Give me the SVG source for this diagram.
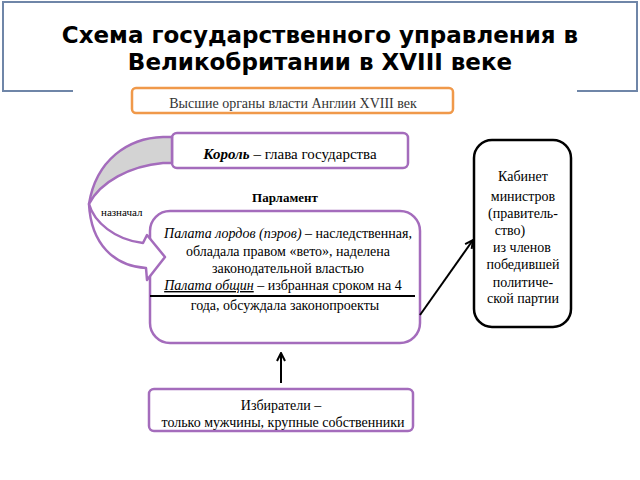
<svg xmlns="http://www.w3.org/2000/svg" width="640" height="480" viewBox="0 0 640 480">
<defs>
<style>
.frame{fill:none;stroke:#6F86A8;stroke-width:2}
.pbox{fill:#fff;stroke:#A46CBC;stroke-width:2.5}
.obox{fill:#fff;stroke:#F0994A;stroke-width:2.5}
.kbox{fill:#fff;stroke:#000;stroke-width:2.5}
.title{font-family:"DejaVu Sans",sans-serif;font-weight:bold;font-size:23px;fill:#000;text-anchor:middle}
.t{font-family:"Liberation Serif",serif;font-size:14px;fill:#000;text-anchor:middle}
.s{font-family:"Liberation Serif",serif;font-size:11px;fill:#000}
.conn{stroke:#000;stroke-width:2;fill:none}
</style>
<marker id="open" viewBox="0 0 10 10" refX="9" refY="5" markerWidth="5" markerHeight="5" orient="auto" markerUnits="strokeWidth">
<path d="M1,1 L9,5 L1,9" fill="none" stroke="#000" stroke-width="2"/>
</marker>
</defs>
<rect width="640" height="480" fill="#fff"/>
<g id="title">
<path class="frame" d="M73,91 L3,91 L3,2 L637,2 L637,91 L577,91"/>
<text class="title" x="320" y="43">Схема государственного управления в</text>
<text class="title" x="320" y="70">Великобритании в XVIII веке</text>
</g>
<g id="header">
<rect class="obox" x="132" y="88" width="321" height="25" rx="4"/>
<text class="t" x="293" y="108" style="fill:#333">Высшие органы власти Англии XVIII век</text>
</g>
<g id="king">
<rect class="pbox" x="172" y="133" width="236" height="35" rx="5"/>
<text class="t" x="290" y="159" style="font-size:15px"><tspan font-weight="bold" font-style="italic">Король</tspan> – глава государства</text>
</g>
<g id="parliament">
<text class="s" x="285" y="202" text-anchor="middle" font-weight="bold" style="font-size:13px">Парламент</text>
<rect class="pbox" x="150" y="211" width="270" height="132" rx="20"/>
<text class="t" x="288" y="238"><tspan font-style="italic">Палата лордов (пэров)</tspan> – наследственная,</text>
<text class="t" x="288" y="256">обладала правом «вето», наделена</text>
<text class="t" x="288" y="273">законодательной властью</text>
<text class="t" x="283" y="290"><tspan font-style="italic" text-decoration="underline">Палата общин</tspan> – избранная сроком на 4</text>
<line x1="150" y1="296" x2="415" y2="296" stroke="#000" stroke-width="2"/>
<text class="t" x="285" y="310">года, обсуждала законопроекты</text>
</g>
<g id="curved-arrow">
<path d="M172,137 L163,137 C128,138 96,160 89,204 C100,182 130,166 163,163 L172,163 Z" fill="#D3D3D3" stroke="#A46CBC" stroke-width="2.5" stroke-linejoin="round"/>
<path d="M89,204 C94,222 115,240 143,243 L147,235 L165,257 L147,280 L146,268 C114,266 91,244 89,204 Z" fill="#fff" stroke="#A46CBC" stroke-width="2.5" stroke-linejoin="round"/>
<text class="s" x="101" y="216">назначал</text>
</g>
<g id="cabinet">
<rect class="kbox" x="474" y="140" width="97" height="187" rx="18"/>
<text class="t" x="523" y="181">Кабинет</text>
<text class="t" x="523" y="201">министров</text>
<text class="t" x="523" y="218">(правитель-</text>
<text class="t" x="510" y="235">ство)</text>
<text class="t" x="522" y="252">из членов</text>
<text class="t" x="523" y="269">победившей</text>
<text class="t" x="523" y="287">политиче-</text>
<text class="t" x="523" y="303">ской партии</text>
</g>
<g id="electors">
<rect class="pbox" x="149" y="389" width="264" height="42" rx="5"/>
<text class="t" x="281" y="410">Избиратели –</text>
<text class="t" x="283" y="427">только мужчины, крупные собственники</text>
</g>
<g id="connectors">
<line class="conn" x1="420" y1="315" x2="473" y2="240" marker-end="url(#open)"/>
<line class="conn" x1="281" y1="383" x2="281" y2="353" marker-end="url(#open)"/>
</g>
</svg>
